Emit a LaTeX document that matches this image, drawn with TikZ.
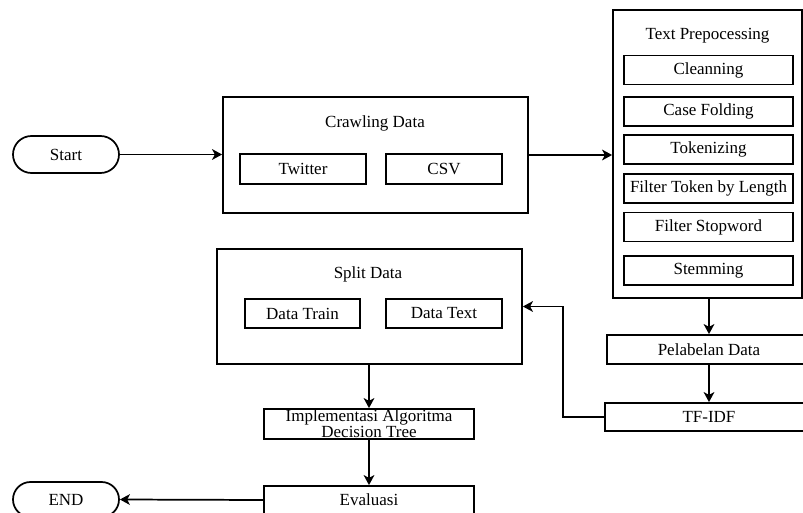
\documentclass[tikz,border=0pt]{standalone}
\usepackage{fontspec}
\setmainfont{Liberation Serif}
\usetikzlibrary{arrows.meta,shapes.misc,calc}
\begin{document}
\begin{tikzpicture}[x=0.75pt,y=-0.75pt,
  box/.style={draw, line width=1.3pt, inner sep=0pt, align=center, font=\fontsize{12.75}{12}\selectfont},
  term/.style={draw, line width=1.3pt, rounded rectangle, inner sep=0pt, font=\fontsize{12.75}{12}\selectfont},
  lbl/.style={inner sep=0pt, font=\fontsize{12.75}{12}\selectfont},
  sub/.style={box, minimum width=126.75pt, minimum height=21.75pt},
  arr/.style={line width=1.3pt, -{Stealth[length=7.5pt,width=8pt,inset=2pt]}},
  ln/.style={line width=1.3pt}]
\useasboundingbox (0,0) rectangle (803,513);
\clip (0,0) rectangle (803,513);
% terminals
\node[term, minimum width=79.5pt, minimum height=27.75pt] (start) at (66,154.5) {Start};
\node[term, minimum width=79.5pt, minimum height=26.25pt] (end) at (66,499.5) {END};
% crawling
\node[box, minimum width=228.75pt, minimum height=87pt] (crawl) at (375.5,155) {};
\node[lbl] (crawlt) at (375,123.5) {Crawling Data};
\node[box, minimum width=94.5pt, minimum height=22.5pt] (twitter) at (303,169) {Twitter};
\node[box, minimum width=87pt, minimum height=22.5pt] (csv) at (444,169) {CSV};
% split
\node[box, minimum width=228.75pt, minimum height=86.25pt] (split) at (369.5,306.5) {};
\node[lbl] (splitt) at (368,274.5) {Split Data};
\node[box, minimum width=86.25pt, minimum height=21.75pt] (train) at (302.5,313.5) {Data Train};
\node[box, minimum width=87pt, minimum height=21.75pt] (dtext) at (444,313.5) {Data Text};
% text preprocessing
\node[box, minimum width=141.75pt, minimum height=216pt] (tp) at (707.5,154) {};
\node[lbl] (tpt) at (707.5,35.5) {Text Prepocessing};
\node[sub] (clean) at (708.5,70) {Cleanning};
\node[sub] (case) at (708.5,111.5) {Case Folding};
\node[sub] (token) at (708.5,149.5) {Tokenizing};
\node[sub] (ftl) at (708.5,188.5) {Filter Token by Length};
\node[sub] (fsw) at (708.5,227) {Filter Stopword};
\node[sub] (stem) at (708.5,270.5) {Stemming};
% right column
\node[box, minimum width=153pt, minimum height=21.75pt] (pel) at (709,349.5) {Pelabelan Data};
\node[box, minimum width=156pt, minimum height=21pt] (tfidf) at (709,417) {TF-IDF};
% bottom column
\node[box, minimum width=157.5pt, minimum height=22.5pt] (impl) at (369,424) {Implementasi Algoritma\\Decision Tree};
\node[box, minimum width=157.5pt, minimum height=21pt] (eval) at (369,500) {Evaluasi};
\coordinate (bendx) at (563,0);
% connectors
\draw[arr] (start.east) -- (start.east -| crawl.west);
\draw[arr] (crawl.east) -- (crawl.east -| tp.west);
\draw[arr] (pel.north |- tp.south) -- (pel.north);
\draw[arr] (pel.south) -- (tfidf.north);
\draw[arr] (tfidf.west) -- (tfidf.west -| bendx) |- (split.east);
\draw[arr] (impl.north |- split.south) -- (impl.north);
\draw[arr] (impl.south) -- (eval.north);
\draw[arr] (eval.west) -- (end.east);
\end{tikzpicture}
\end{document}
